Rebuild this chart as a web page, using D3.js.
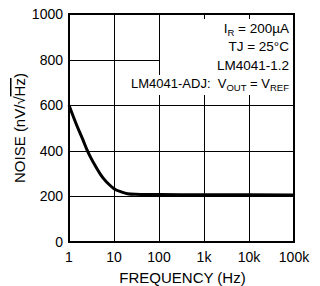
<!DOCTYPE html>
<html><head><meta charset="utf-8">
<script src="https://cdn.jsdelivr.net/npm/d3@7"></script>
<style>
html,body{margin:0;padding:0;background:#fff;}
svg{display:block;}
text{font-family:"Liberation Sans",Arial,Helvetica,sans-serif;fill:#000;white-space:pre;}
</style></head>
<body>
<svg id="c" width="320" height="286"></svg>
<script>
const freqs  = [1, 1.5, 2, 2.5, 3, 4, 5, 6, 8, 10, 15, 20, 30, 50, 100, 1000, 10000, 100000];
const noise  = [600, 510, 452, 405, 372, 328, 297, 276, 250, 234, 219, 212, 209, 208, 208, 207, 207, 206];
const xTicks = [1, 10, 100, 1000, 10000, 100000];
const xTickLabels = ["1", "10", "100", "1k", "10k", "100k"];
const yTicks = [0, 200, 400, 600, 800, 1000];

const svg = d3.select("#c");
const L = 69, R = 294, T = 14, B = 242;
const x = d3.scaleLog().domain([1, 100000]).range([L, R]);
const y = d3.scaleLinear().domain([0, 1000]).range([B, T]);

// grid
const grid = svg.append("g").attr("stroke", "#000").attr("stroke-width", 1);
grid.selectAll("line.v").data(xTicks.slice(1, -1)).join("line")
  .attr("x1", d => Math.round(x(d)) + 0.5).attr("x2", d => Math.round(x(d)) + 0.5)
  .attr("y1", T).attr("y2", B);
grid.selectAll("line.h").data(yTicks.slice(1, -1)).join("line")
  .attr("y1", d => Math.round(y(d)) + 0.5).attr("y2", d => Math.round(y(d)) + 0.5)
  .attr("x1", L).attr("x2", R);

// annotation text
const ann = svg.append("g").attr("font-size", 13.5).attr("text-anchor", "end");
const ax = 289;
const sub = 9.5;
let t;
t = ann.append("text").attr("x", ax).attr("y", 33);
t.append("tspan").text("I");
t.append("tspan").attr("font-size", sub).attr("dy", 3).text("R");
t.append("tspan").attr("dy", -3).text(" = 200µA");
t = ann.append("text").attr("x", ax).attr("y", 51).text("TJ = 25°C");
t = ann.append("text").attr("x", ax).attr("y", 70).text("LM4041-1.2");
t = ann.append("text").attr("x", ax).attr("y", 88).attr("font-size", 13);
t.append("tspan").text("LM4041-ADJ:  V");
t.append("tspan").attr("font-size", sub).attr("dy", 3).text("OUT");
t.append("tspan").attr("dy", -3).text(" = V");
t.append("tspan").attr("font-size", sub).attr("dy", 3).text("REF");
const last = t;

// white boxes behind annotation
const b4 = last.node().getBBox();
const topBox = {x0: 160, y0: 19, y1: b4.y - 1};
svg.insert("rect", "g:nth-of-type(2)")
  .attr("x", topBox.x0).attr("y", topBox.y0).attr("width", R - topBox.x0).attr("height", topBox.y1 - topBox.y0)
  .attr("fill", "#fff");
svg.insert("rect", "g:nth-of-type(2)")
  .attr("x", b4.x - 3).attr("y", b4.y - 1).attr("width", R - (b4.x - 3)).attr("height", b4.height + 3)
  .attr("fill", "#fff");

// curve
svg.append("path")
  .datum(freqs.map((f, i) => [f, noise[i]]))
  .attr("fill", "none").attr("stroke", "#000").attr("stroke-width", 3)
  .attr("stroke-linejoin", "round")
  .attr("d", d3.line().x(d => x(d[0])).y(d => y(d[1])).curve(d3.curveMonotoneX));

// frame
svg.append("rect").attr("x", L).attr("y", T).attr("width", R - L).attr("height", B - T)
  .attr("fill", "none").attr("stroke", "#000").attr("stroke-width", 2);

// y tick labels
svg.append("g").attr("font-size", 14).attr("text-anchor", "end")
  .selectAll("text").data(yTicks).join("text")
  .attr("x", L - 6).attr("y", d => y(d) + 5).text(d => d);

// x tick labels
svg.append("g").attr("font-size", 14).attr("text-anchor", "middle")
  .selectAll("text").data(xTicks).join("text")
  .attr("x", d => x(d)).attr("y", B + 20).text((d, i) => xTickLabels[i]);

// axis titles
svg.append("text").attr("font-size", 15).attr("text-anchor", "middle")
  .attr("x", (L + R) / 2 + 1).attr("y", 283).text("FREQUENCY (Hz)");

const yt = svg.append("text").attr("font-size", 15).attr("text-anchor", "middle")
  .attr("transform", `translate(25,${(T + B) / 2}) rotate(-90)`);
yt.append("tspan").text("NOISE (nV/√");
yt.append("tspan").style("text-decoration", "overline").text("Hz");
yt.append("tspan").text(")");
</script>
</body></html>
